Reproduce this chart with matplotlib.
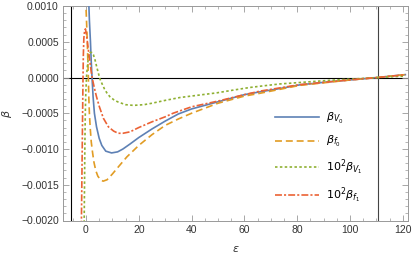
import numpy as np
import matplotlib
matplotlib.use("Agg")
import matplotlib.pyplot as plt
from matplotlib.ticker import MultipleLocator, FuncFormatter

# ---- data ----
eps_V0 = [1.0, 1.3, 1.7, 2.0, 2.3, 2.7, 3.2, 4.0, 5.0, 6.0, 7.5, 9.7, 12, 14, 16.7, 20,
          25, 30, 35, 40, 50, 60, 66, 73.5, 81, 92, 100, 110.5, 121]
beta_V0 = [0.00112, 0.0008, 0.0005, 0.00022, 0.0, -0.00027, -0.0005, -0.00069, -0.00085,
           -0.00095, -0.00103, -0.001055, -0.00104, -0.001, -0.00093, -0.00084, -0.00072,
           -0.00061, -0.00051, -0.00044, -0.00034, -0.00024, -0.0002, -0.000154, -0.000103,
           -0.00006, -0.000034, 0.0, 0.00004]

eps_f0 = [-0.1, 0.0, 0.3, 0.5, 0.7, 0.9, 1.1, 1.3, 1.6, 2.0, 2.5, 3.0, 3.7, 4.5, 5.5, 6.5,
          8, 10, 12.5, 15.5, 20, 25, 30, 35, 40, 50, 60, 66, 81, 100, 110.5, 121]
beta_f0 = [0.0013, 0.001, 0.0007, 0.0005, 0.00025, 0.0, -0.0003, -0.0005, -0.0007, -0.0009,
           -0.00105, -0.00118, -0.0013, -0.00138, -0.00143, -0.00145, -0.00143, -0.00135,
           -0.00124, -0.00111, -0.00095, -0.0008, -0.00067, -0.00058, -0.0005, -0.00036,
           -0.00026, -0.00022, -0.00011, -0.000035, 0.0, 0.00004]

eps_V1 = [-0.7, -0.55, -0.4, -0.25, -0.05, 0.25, 0.6, 1.0, 1.6, 2.2, 2.8, 3.4, 4.0, 4.7,
          5.3, 6.0, 7.0, 8.0, 9.1, 10.5, 12, 15, 18, 22, 25, 30, 35.6, 42, 49.5, 56, 62,
          66, 73.5, 81, 92, 100, 110.5, 121]
beta_V1 = [-0.0021, -0.0015, -0.0009, -0.0005, -0.0002, 0.00003, 0.00018, 0.0003, 0.00035,
           0.00035, 0.00032, 0.00025, 0.00016, 0.00006, -0.00002, -0.00008, -0.00016,
           -0.00022, -0.00027, -0.00031, -0.00034, -0.00038, -0.00039, -0.00038, -0.00036,
           -0.00032, -0.00028, -0.00025, -0.000215, -0.000175, -0.00014, -0.000122,
           -0.00009, -0.00007, -0.00004, -0.000024, 0.0, 0.00002]

eps_f1 = [-1.75, -1.6, -1.45, -1.3, -1.15, -1.0, -0.8, -0.5, -0.2, 0.2, 0.6, 1.0, 1.5, 2.0,
          2.5, 3.2, 4.0, 5.0, 6.6, 8.5, 10.5, 12.2, 14, 16.7, 20, 25, 30, 33, 40, 50, 60,
          66, 81, 100, 110.5, 121]
beta_f1 = [-0.0021, -0.0016, -0.0011, -0.0006, -0.0001, 0.0003, 0.00055, 0.00066, 0.00068,
           0.0006, 0.00048, 0.00036, 0.00022, 0.00008, -0.00003, -0.00015, -0.00027, -0.0004,
           -0.00057, -0.00069, -0.00075, -0.00078, -0.00078, -0.00076, -0.0007, -0.00062,
           -0.00055, -0.0005, -0.00041, -0.00033, -0.00024, -0.00019, -0.0001, -0.000034,
           0.0, 0.00004]

labels = [r'$\beta_{V_0}$', r'$\beta_{f_0}$', r'$10^2\beta_{V_1}$', r'$10^2\beta_{f_1}$']
x_axis_at = -5.8
x_mark = 110.5

# ---- figure ----
plt.rcParams['font.family'] = ['Liberation Sans', 'DejaVu Sans']
plt.rcParams['mathtext.fontset'] = 'dejavusans'
plt.rcParams['lines.scale_dashes'] = False

fig = plt.figure(figsize=(4.15, 2.57), dpi=100)
ax = fig.add_axes([63 / 415, 1 - 220.5 / 257, (408 - 63) / 415, (220.5 - 6) / 257])

ax.axhline(0, color='black', lw=0.8, zorder=1)
ax.axvline(x_axis_at, color='black', lw=0.8, zorder=1)
ax.axvline(x_mark, color='#444444', lw=0.8, zorder=1)

lw = 1.2
ax.plot(eps_V0, beta_V0, color='#5E81B5', lw=lw, label=labels[0], zorder=3)
ax.plot(eps_f0, beta_f0, color='#E19C24', lw=lw, dashes=(5, 2.8), label=labels[1], zorder=3)
ax.plot(eps_V1, beta_V1, color='#8FB032', lw=lw, dashes=(1.8, 1.7), label=labels[2], zorder=3)
ax.plot(eps_f1, beta_f1, color='#EB6235', lw=lw, dashes=(5, 1.5, 1.5, 1.5), label=labels[3], zorder=3)

ax.set_xlim(-8.7, 122)
ax.set_ylim(-0.002, 0.001)

ax.xaxis.set_major_locator(MultipleLocator(20))
ax.xaxis.set_minor_locator(MultipleLocator(5))
ax.yaxis.set_major_locator(MultipleLocator(0.0005))
ax.yaxis.set_minor_locator(MultipleLocator(0.0001))
ax.yaxis.set_major_formatter(FuncFormatter(lambda v, p: f"{v:.4f}".replace('-', '\u2212') if abs(v) > 1e-12 else "0.0000"))
ax.xaxis.set_major_formatter(FuncFormatter(lambda v, p: f"{v:.0f}"))

ax.tick_params(which='both', direction='in', top=True, right=True, color='#999999',
               labelcolor='#333333', labelsize=7.5)
ax.tick_params(which='major', length=4, width=0.6, pad=3)
ax.tick_params(which='minor', length=2, width=0.5)
for s in ax.spines.values():
    s.set_color('#999999')
    s.set_linewidth(0.7)

ax.set_xlabel(r'$\epsilon$', fontsize=8, color='#333333', labelpad=7)
ax.set_ylabel(r'$\beta$', fontsize=8, color='#333333', labelpad=5)

ax.legend(loc='upper left', bbox_to_anchor=(275 / 415, 1 - 111 / 257),
          bbox_transform=fig.transFigure, frameon=False, fontsize=8,
          handlelength=4.0, handletextpad=0.55, labelspacing=0.75,
          borderpad=0, borderaxespad=0)

fig.savefig('out.png', dpi=100)
